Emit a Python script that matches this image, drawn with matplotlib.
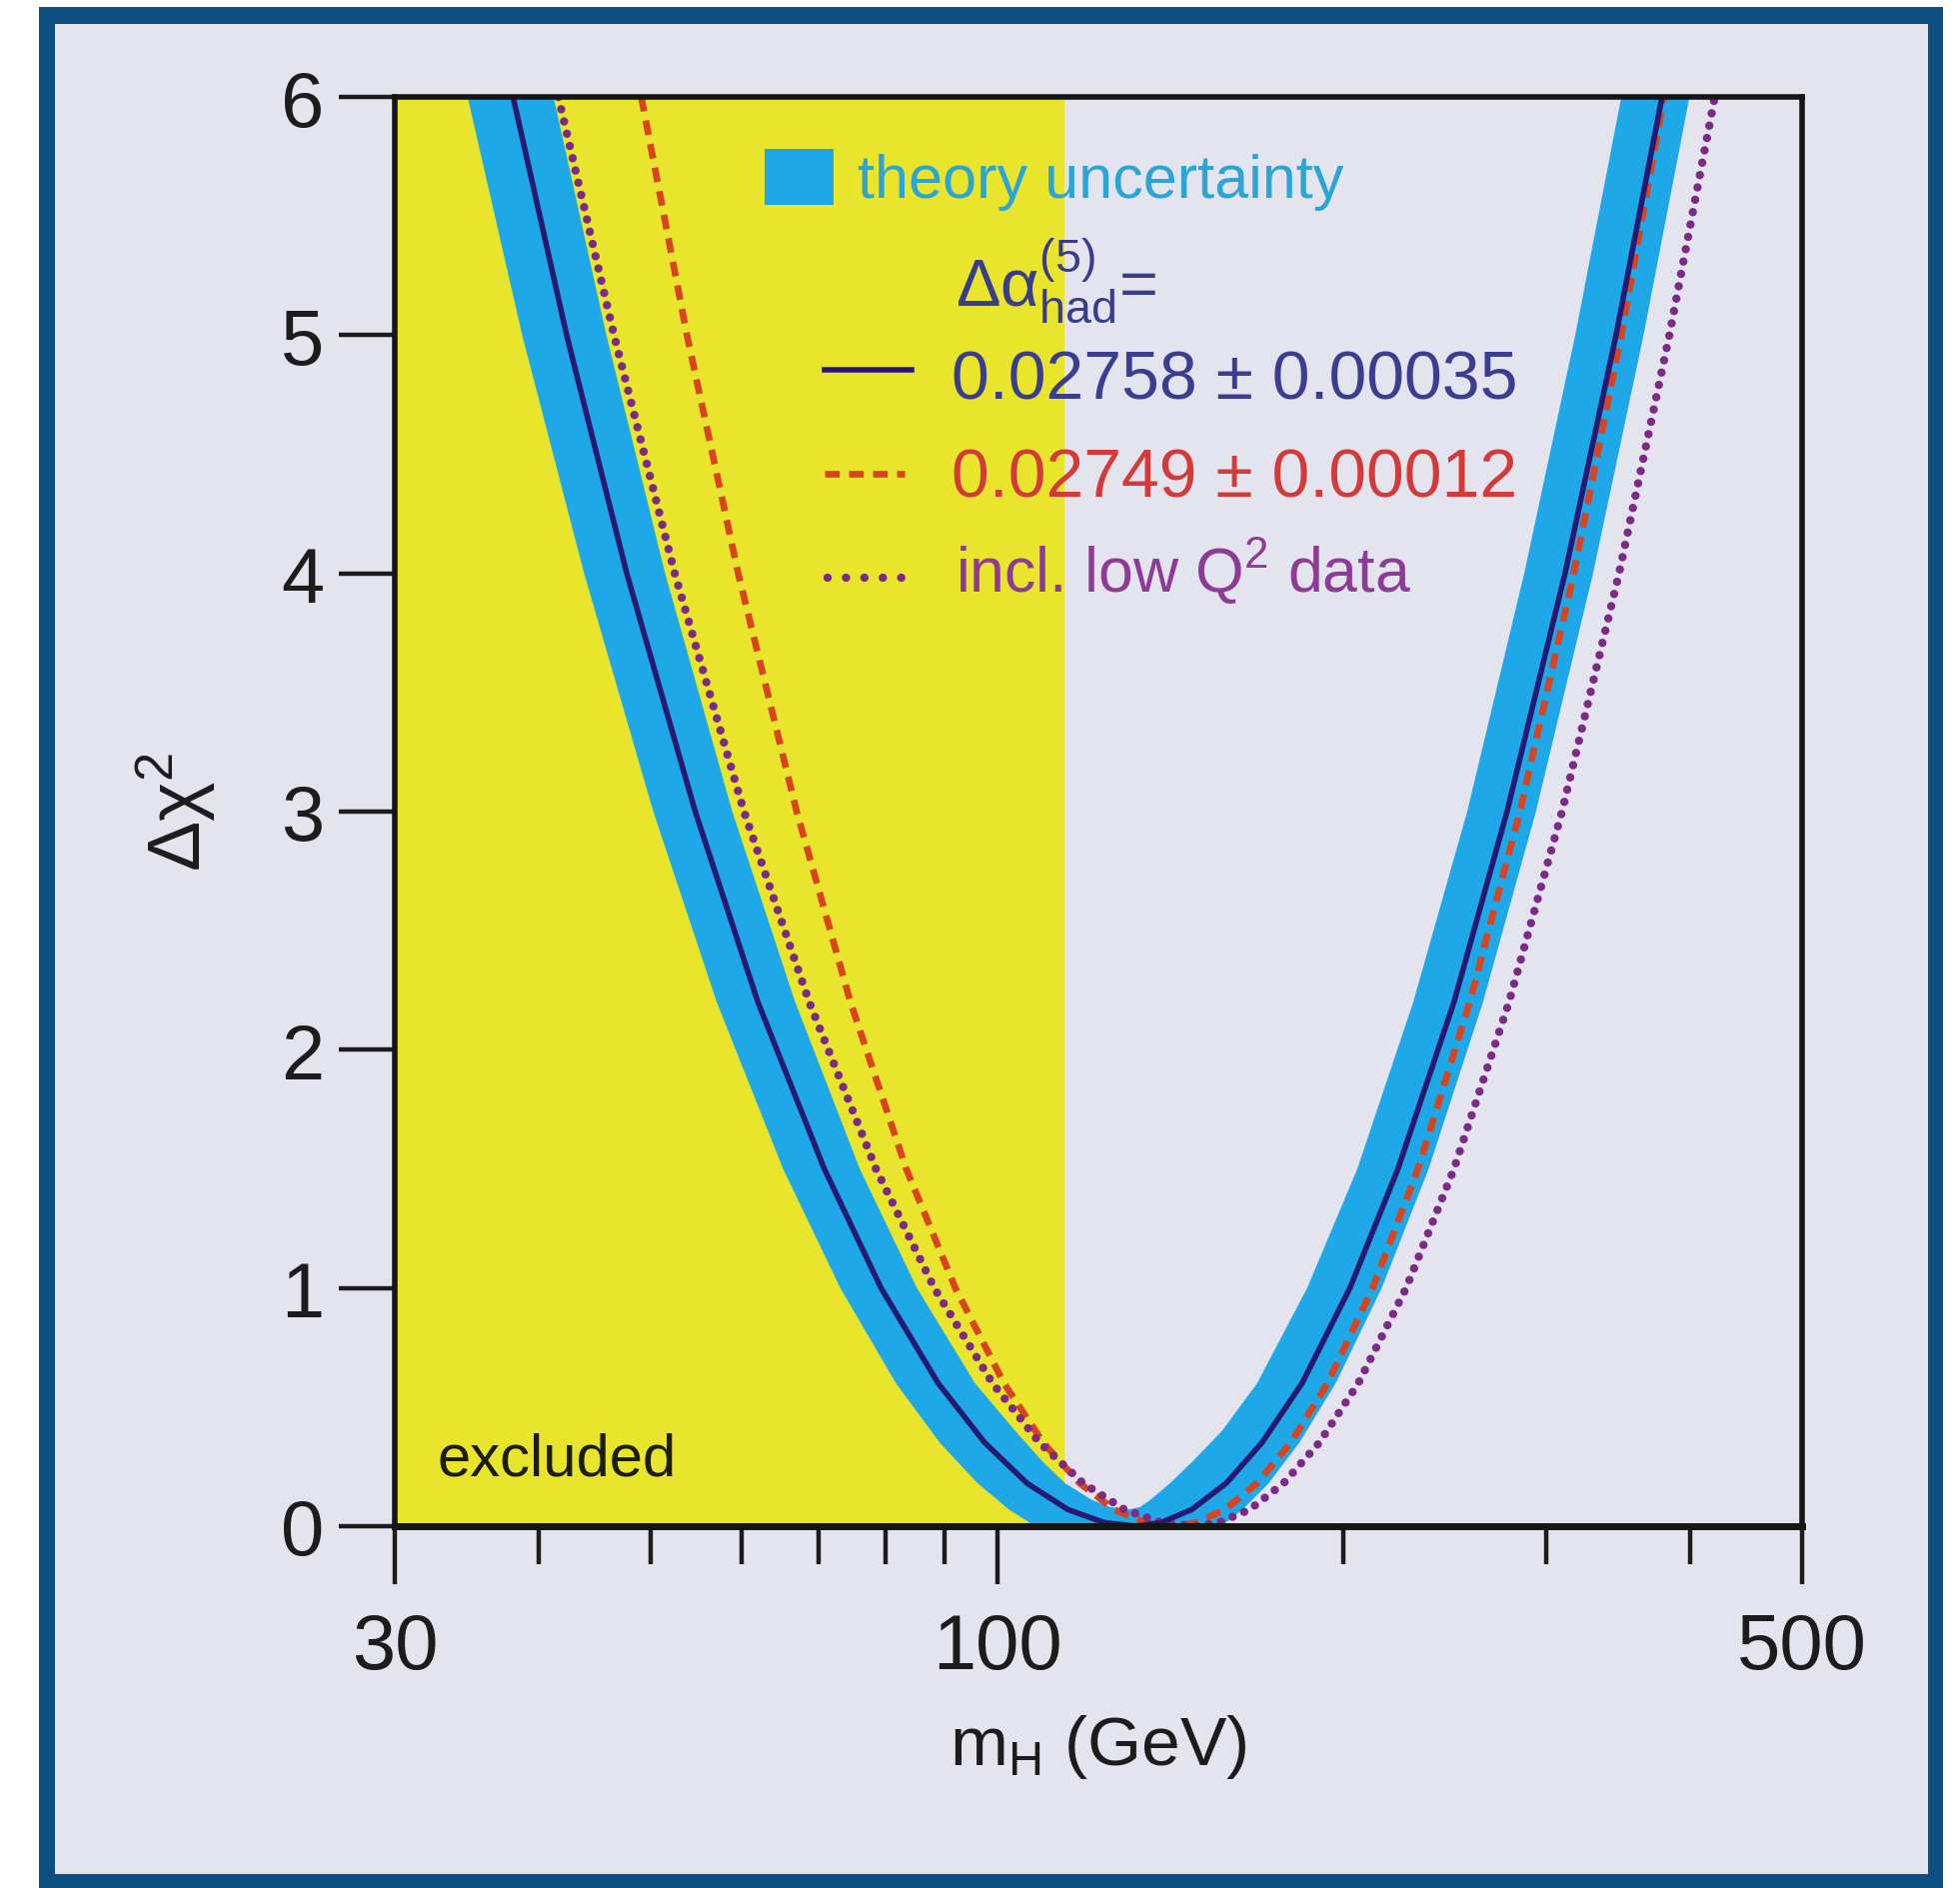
import numpy as np
import matplotlib
matplotlib.use('Agg')
import matplotlib.pyplot as plt
from matplotlib.patches import Rectangle
from matplotlib.lines import Line2D

plt.rcParams['font.family'] = ['Liberation Sans', 'DejaVu Sans']
plt.rcParams['mathtext.fontset'] = 'custom'
plt.rcParams['mathtext.rm'] = 'Liberation Sans'
plt.rcParams['mathtext.it'] = 'Liberation Sans:italic'

# --- data: m_H [GeV] and delta chi2 ---
band_outer_m = [34.7, 38.7, 43.8, 50.3, 57.1, 65.2, 73.1, 81.7, 89.2, 96.2, 102.4, 107.9,
                156.5, 163.4, 172.1, 183.0, 196.8, 215.8, 237.0, 264.2, 293.7, 329.2, 364.2, 399.2]
band_outer_c = [6, 5, 4, 3, 2.2, 1.5, 1.0, 0.6, 0.35, 0.18, 0.07, 0,
                0, 0.07, 0.18, 0.35, 0.6, 1.0, 1.5, 2.2, 3, 4, 5, 6]

band_inner_m = [41.2, 45.8, 51.5, 58.9, 66.8, 76.0, 85.2, 95.7, 103.7, 109.6, 114.6, 120.9, 125.4,
                130.0, 133.1, 135.8, 141.3, 147.7, 156.8, 168.2, 185.9, 205.5, 229.8, 256.0,
                286.9, 317.7, 348.4]
band_inner_c = [6, 5, 4, 3, 2.2, 1.5, 1.0, 0.6, 0.4, 0.27, 0.18, 0.11, 0.08,
                0.07, 0.08, 0.11, 0.18, 0.27, 0.4, 0.6, 1.0, 1.5, 2.2, 3,
                4, 5, 6]

levels = [6, 5, 4, 3, 2.2, 1.5, 1.0, 0.6, 0.35, 0.18, 0.07, 0.015, 0,
          0.015, 0.07, 0.18, 0.35, 0.6, 1.0, 1.5, 2.2, 3, 4, 5, 6]

solid_m = [38.0, 42.3, 47.7, 54.7, 62.0, 70.8, 79.3, 88.9, 97.6, 106.2, 115.2, 123.9, 131.8,
           138.8, 147.6, 158.1, 169.8, 184.0, 202.5, 222.9, 249.3, 277.2, 311.3, 344.7, 377.9]
red_m = [49.1, 53.8, 59.6, 67.0, 74.6, 83.4, 92.0, 101.4, 109.7, 118.0, 126.4, 134.5, 141.8,
         148.9, 157.7, 168.1, 179.9, 193.6, 211.9, 232.0, 257.3, 284.4, 316.8, 348.3, 379.4]
purple_m = [41.6, 46.5, 52.5, 60.3, 68.7, 78.5, 88.2, 99.1, 108.9, 118.8, 129.0, 138.9, 148.0,
            155.9, 165.7, 177.3, 190.4, 205.9, 226.6, 249.3, 278.3, 309.4, 346.8, 383.5, 419.9]

excluded_limit = 114.4
x_major = [30, 100, 500]
x_minor = [40, 50, 60, 70, 80, 90, 200, 300, 400]
y_ticks = [0, 1, 2, 3, 4, 5, 6]

# --- colours ---
lav = '#e4e4ef'
border = '#0d4f80'
yellow = '#e8e52c'
band_col = '#1ea8e8'
navy = '#271872'
red = '#d9441f'
purple = '#7c2a86'

W, H = 1961, 1890
fig = plt.figure(figsize=(W / 100, H / 100), dpi=100)
fig.patch.set_facecolor('white')


def fx(x):
    return x / W


def fy(y):
    return 1 - y / H


fig.add_artist(Rectangle((fx(39), 0), fx(1944) - fx(39), fy(8), transform=fig.transFigure,
                         facecolor=border, edgecolor='none', zorder=-2))
fig.add_artist(Rectangle((fx(55), fy(1876)), fx(1929) - fx(55), fy(25) - fy(1876),
                         transform=fig.transFigure, facecolor=lav, edgecolor='none', zorder=-1))

ax = fig.add_axes([fx(395), fy(1528), fx(1803) - fx(395), fy(98) - fy(1528)])
ax.set_facecolor('none')

ax.axvspan(30, excluded_limit, color=yellow, zorder=1, lw=0)

poly_m = np.concatenate([band_outer_m, band_inner_m[::-1]])
poly_c = np.concatenate([band_outer_c, band_inner_c[::-1]])
ax.fill(poly_m, poly_c, color=band_col, lw=0, zorder=2)

ax.plot(red_m, levels, color=red, lw=4.8, linestyle=(0, (2.2, 1.4)), zorder=3)
ax.plot(purple_m, levels, color=purple, lw=6, linestyle=(0, (0.01, 1.5)),
        dash_capstyle='round', zorder=3.5)
ax.plot(solid_m, levels, color=navy, lw=4, zorder=4)

ax.set_xscale('log')
ax.set_xlim(30, 500)
ax.set_ylim(0, 6)
ax.set_xticks(x_major)
ax.set_xticklabels([str(v) for v in x_major])
ax.set_xticks(x_minor, minor=True)
ax.xaxis.set_minor_formatter(matplotlib.ticker.NullFormatter())
ax.set_yticks(y_ticks)
ax.set_yticklabels([str(v) for v in y_ticks])

for s in ['left', 'right', 'top']:
    ax.spines[s].set_linewidth(4)
ax.spines['bottom'].set_linewidth(5)
for s in ax.spines.values():
    s.set_color('#151515')
    s.set_zorder(6)

ax.tick_params(axis='both', which='major', direction='out', labelsize=56,
               colors='#1c1c1c', width=3.2)
ax.tick_params(axis='y', length=40, pad=11)
ax.tick_params(axis='x', which='major', length=42, pad=19)
ax.tick_params(axis='x', which='minor', length=27, width=3.2, colors='#1c1c1c')

ax.set_ylabel(r'$\mathregular{\Delta\chi^2}$', fontsize=54, color='#1c1c1c')
ax.yaxis.set_label_coords(-0.125, 0.5)
ax.set_xlabel(r'$\mathregular{m_H}$ (GeV)', fontsize=50, color='#1c1c1c')
ax.xaxis.set_label_coords(0.5, -0.13)

# --- legend, drawn by hand ---
fig.add_artist(Rectangle((fx(765), fy(206)), fx(834) - fx(765), fy(150) - fy(206),
                         transform=fig.transFigure, facecolor=band_col, edgecolor='none', zorder=10))
fig.text(fx(858), fy(198), 'theory uncertainty', fontsize=44, color='#2aa5d5',
         ha='left', va='baseline', zorder=10)
fig.text(fx(956), fy(306), r'$\mathregular{\Delta\alpha^{(5)}_{had}}$=', fontsize=48,
         color='#3a3c8c', ha='left', va='baseline', zorder=10)

fig.add_artist(Line2D([fx(825), fx(912)], [fy(371), fy(371)], transform=fig.transFigure,
                      color=navy, lw=4, zorder=10))
fig.text(fx(952), fy(400), '0.02758 ± 0.00035', fontsize=49, color='#3b3d90',
         ha='left', va='baseline', zorder=10)
fig.add_artist(Line2D([fx(825), fx(905)], [fy(475), fy(475)], transform=fig.transFigure,
                      color=red, lw=4.8, linestyle=(0, (2.2, 1.4)), zorder=10))
fig.text(fx(952), fy(498), '0.02749 ± 0.00012', fontsize=49, color='#d33b3b',
         ha='left', va='baseline', zorder=10)
fig.add_artist(Line2D([fx(828), fx(920)], [fy(579), fy(579)], transform=fig.transFigure,
                      color=purple, lw=6, linestyle=(0, (0.01, 2.2)),
                      dash_capstyle='round', zorder=10))
fig.text(fx(956), fy(593), r'incl. low Q$\mathregular{^2}$ data', fontsize=45,
         color='#8d3c96', ha='left', va='baseline', zorder=10)

fig.text(fx(437), fy(1477), 'excluded', fontsize=43, color='#1c1c10',
         ha='left', va='baseline', zorder=10)

fig.savefig('out.png', dpi=100)
